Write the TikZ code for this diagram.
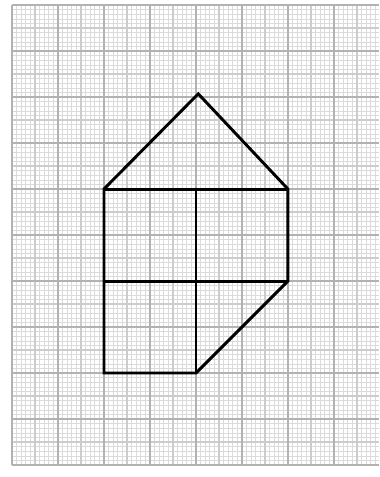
\documentclass[tikz,border=0pt]{standalone}
\usepackage{tikz}

\begin{document}
\begin{tikzpicture}[x=1cm,y=1cm]
\useasboundingbox (-0.26,-0.26) rectangle (7.98,10.11);
% graph paper
\draw [gray!28,line width=0.4pt] (0,0) grid[step=0.1] (7.98,10);
\draw [gray!40,line width=0.7pt] (0,0) grid[step=0.5] (7.98,10);
\draw [gray!60,line width=1.4pt] (0,0) grid[step=1] (7.98,10);
% house
\coordinate (tl) at (2,6);
\coordinate (tm) at (4,6);
\coordinate (tr) at (6,6);
\coordinate (ml) at (2,4);
\coordinate (mm) at (4,4);
\coordinate (mr) at (6,4);
\coordinate (bl) at (2,2);
\coordinate (bm) at (4,2);
\coordinate (apex) at (4.05,8.07);
\begin{scope}[line width=1.8pt,line join=miter]
\draw (tl) -- (apex) -- (tr) -- (mr) -- (bm) -- (bl) -- cycle;
\draw (tl) -- (tr);
\draw (ml) -- (mr);
\draw (tm) -- (bm);
\end{scope}
\end{tikzpicture}
\end{document}
